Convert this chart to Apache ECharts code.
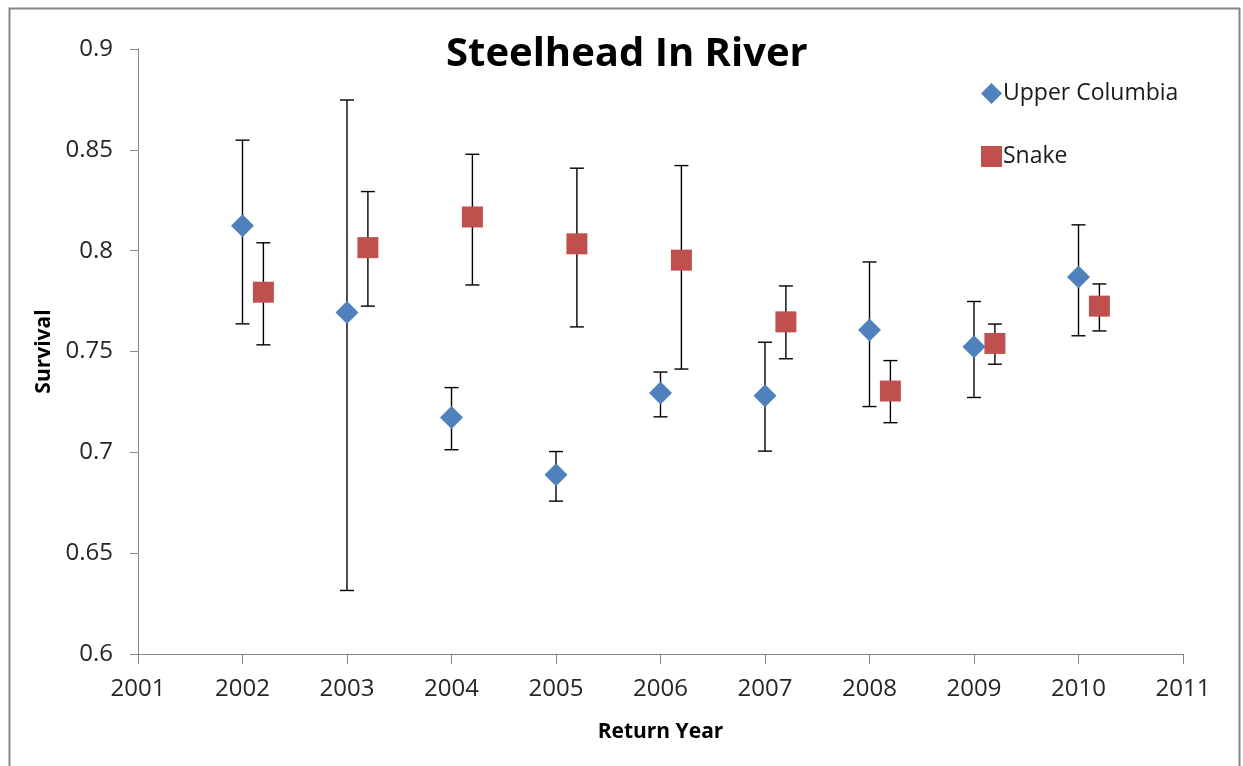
<!DOCTYPE html>
<html>
<head>
<meta charset="utf-8">
<title>Steelhead In River</title>
<script src="https://cdn.jsdelivr.net/npm/echarts@6/dist/echarts.min.js"></script>
<style>
  html, body { margin: 0; padding: 0; background: #fff; }
  #chart { width: 1243px; height: 766px; }
</style>
</head>
<body>
<div id="chart"></div>
<script>
// Return years and in-river survival estimates with confidence bounds
const years = [2002, 2003, 2004, 2005, 2006, 2007, 2008, 2009, 2010];

const upperColumbia      = [0.8124, 0.7693, 0.7173, 0.6889, 0.7294, 0.7280, 0.7606, 0.7523, 0.7869];
const upperColumbiaHigh  = [0.8548, 0.8747, 0.7321, 0.7004, 0.7398, 0.7546, 0.7944, 0.7748, 0.8128];
const upperColumbiaLow   = [0.7637, 0.6315, 0.7013, 0.6758, 0.7176, 0.7006, 0.7227, 0.7272, 0.7578];

const snake      = [0.7794, 0.8015, 0.8167, 0.8034, 0.7953, 0.7647, 0.7304, 0.7540, 0.7725];
const snakeHigh  = [0.8039, 0.8293, 0.8478, 0.8409, 0.8422, 0.7825, 0.7455, 0.7636, 0.7835];
const snakeLow   = [0.7533, 0.7725, 0.7830, 0.7622, 0.7413, 0.7464, 0.7147, 0.7437, 0.7602];

const yTicks = [0.6, 0.65, 0.7, 0.75, 0.8, 0.85, 0.9];

// Snake points sit slightly right of the year so the two series don't overlap
const SNAKE_SHIFT = 0.2;

const FONT = '"Open Sans", "Liberation Sans", sans-serif';
const BLUE = '#4F81BD';
const RED = '#C0504D';

function points(xs, ys, shift) {
  return xs.map((x, i) => [x + shift, ys[i]]);
}
function bars(xs, lo, hi, shift) {
  return xs.map((x, i) => [x + shift, lo[i], hi[i]]);
}

// Vertical error bar with horizontal caps, positioned via the axes
function renderErrorBar(params, api) {
  const x = api.value(0);
  const lo = api.coord([x, api.value(1)]);
  const hi = api.coord([x, api.value(2)]);
  const half = 7;
  const style = { stroke: '#000', lineWidth: 1.4 };
  return {
    type: 'group',
    children: [
      { type: 'line', shape: { x1: lo[0], y1: lo[1], x2: hi[0], y2: hi[1] }, style },
      { type: 'line', shape: { x1: hi[0] - half, y1: hi[1], x2: hi[0] + half, y2: hi[1] }, style },
      { type: 'line', shape: { x1: lo[0] - half, y1: lo[1], x2: lo[0] + half, y2: lo[1] }, style }
    ]
  };
}

const chart = echarts.init(document.getElementById('chart'), null, { renderer: 'canvas' });

chart.setOption({
  backgroundColor: '#fff',
  animation: false,
  graphic: [{
    type: 'rect',
    left: 7, top: 6,
    shape: { width: 1230, height: 775 },
    style: { fill: 'none', stroke: '#878787', lineWidth: 2 },
    z: -1
  }],
  title: {
    text: 'Steelhead In River',
    left: 441,
    top: 30,
    textStyle: { fontFamily: FONT, fontSize: 40, fontWeight: 'bold', color: '#000' }
  },
  legend: {
    orient: 'vertical',
    left: 976,
    top: 77,
    itemGap: 40,
    itemWidth: 21,
    itemHeight: 21,
    textStyle: { fontFamily: FONT, fontSize: 23, color: '#1a1a1a', padding: [0, 0, 0, -4] },
    data: [
      { name: 'Upper Columbia', icon: 'diamond' },
      { name: 'Snake', icon: 'rect' }
    ]
  },
  grid: { left: 138, right: 60, top: 49, bottom: 112, containLabel: false },
  xAxis: {
    type: 'value',
    min: 2001, max: 2011, interval: 1,
    name: 'Return Year',
    nameLocation: 'middle',
    nameGap: 68,
    nameTextStyle: { fontFamily: FONT, fontSize: 21, fontWeight: 'bold', color: '#000' },
    axisLine: { show: true, lineStyle: { color: '#868686', width: 1 } },
    axisTick: { show: true, length: 10, lineStyle: { color: '#868686' } },
    axisLabel: {
      fontFamily: FONT, fontSize: 24, color: '#262626', margin: 23,
      formatter: v => String(v)
    },
    splitLine: { show: false }
  },
  yAxis: {
    type: 'value',
    min: yTicks[0], max: yTicks[yTicks.length - 1], interval: 0.05,
    name: 'Survival',
    nameLocation: 'middle',
    nameGap: 83,
    nameTextStyle: { fontFamily: FONT, fontSize: 21, fontWeight: 'bold', color: '#000' },
    axisLine: { show: true, lineStyle: { color: '#868686', width: 1 } },
    axisTick: { show: true, length: 8, lineStyle: { color: '#868686' } },
    axisLabel: {
      fontFamily: FONT, fontSize: 24, color: '#262626', margin: 25,
      formatter: v => String(+v.toFixed(2))
    },
    splitLine: { show: false }
  },
  series: [
    {
      name: 'Upper Columbia errors',
      type: 'custom',
      renderItem: renderErrorBar,
      data: bars(years, upperColumbiaLow, upperColumbiaHigh, 0),
      z: 1,
      silent: true
    },
    {
      name: 'Snake errors',
      type: 'custom',
      renderItem: renderErrorBar,
      data: bars(years, snakeLow, snakeHigh, SNAKE_SHIFT),
      z: 1,
      silent: true
    },
    {
      name: 'Upper Columbia',
      type: 'scatter',
      symbol: 'diamond',
      symbolSize: 23,
      itemStyle: { color: BLUE, opacity: 1 },
      data: points(years, upperColumbia, 0),
      z: 3
    },
    {
      name: 'Snake',
      type: 'scatter',
      symbol: 'rect',
      symbolSize: 21,
      itemStyle: { color: RED, opacity: 1 },
      data: points(years, snake, SNAKE_SHIFT),
      z: 3
    }
  ]
});
</script>
</body>
</html>
